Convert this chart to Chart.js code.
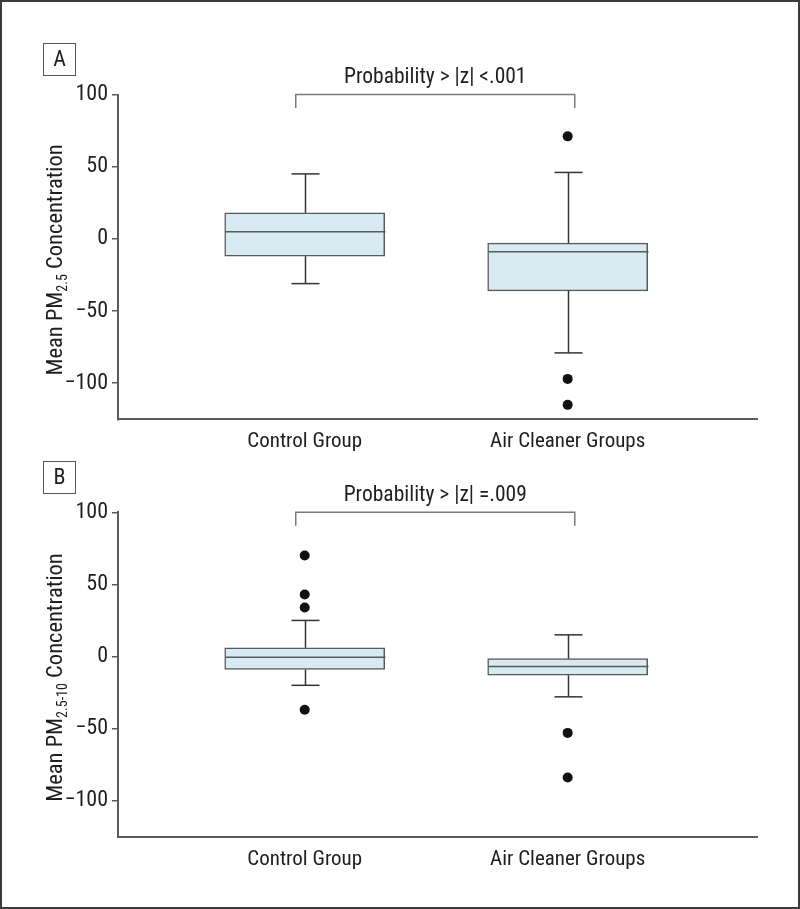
<!DOCTYPE html>
<html><head><meta charset="utf-8">
<script src="https://cdn.jsdelivr.net/npm/chart.js@4.4.1/dist/chart.umd.min.js"></script>
<style>
html,body{margin:0;padding:0;background:#fff;}
#wrap{position:relative;width:800px;height:909px;overflow:hidden;background:#fff;}
#frame{position:absolute;left:0;top:0;width:800px;height:909px;box-sizing:border-box;border:2px solid #3c3c3c;pointer-events:none;}
canvas{position:absolute;left:0;}
</style></head><body>
<div id="wrap">
<canvas id="cA" width="800" height="455" style="top:0px"></canvas>
<canvas id="cB" width="800" height="454" style="top:455px"></canvas>
<div id="frame"></div>
</div>
<script>
// ---------- data ----------
const categories = ['Control Group', 'Air Cleaner Groups'];
const categoryX = [1, 2];
const yTicks = [-100, -50, 0, 50, 100];
const yMin = -125, yMax = 100;

// Panel A: Mean PM2.5 concentration
const aWhiskerLow  = [-31, -79];
const aQ1          = [-12, -36];
const aMedian      = [5, -9];
const aQ3          = [18, -3];
const aWhiskerHigh = [45, 46];
const aOutliersControl = [];
const aOutliersAir     = [71, -97, -115];
const aTitle = 'Probability > |z| <.001';

// Panel B: Mean PM2.5-10 concentration
const bWhiskerLow  = [-20, -28];
const bQ1          = [-9, -13];
const bMedian      = [-0.5, -7];
const bQ3          = [6, -1.5];
const bWhiskerHigh = [25, 15];
const bOutliersControl = [70, 43, 34, -37];
const bOutliersAir     = [-53, -84];
const bTitle = 'Probability > |z| =.009';

const bracketX = [0.966, 2.027];
const bracketY = [100, 90.6];

// ---------- styles ----------
const FONT = '"Liberation Sans Narrow", "Roboto Condensed", "DejaVu Sans Condensed", "Liberation Sans", sans-serif';
const TEXT = '#1e1e1e';
const AXIS = '#5a5a5a';
const BOXFILL = '#d8eaf2';
const BOXLINE = '#5a5a5a';
const WHISK = '#333333';

function fmt(v){ return v < 0 ? '\u2212' + Math.abs(v) : String(v); }

function makeChart(canvasId, p){
  const outliers = [];
  p.outControl.forEach(v => outliers.push({x: categoryX[0], y: v}));
  p.outAir.forEach(v => outliers.push({x: categoryX[1], y: v}));
  const boxes = categoryX.map((x, i) => ({x: x, y: [p.q1[i], p.q3[i]]}));

  const overlay = {
    id: 'overlay',
    afterDatasetsDraw(chart){
      const {ctx, scales:{x, y}} = chart;
      ctx.save();
      ctx.lineCap = 'butt';
      categoryX.forEach((cx, i) => {
        const px = Math.round(x.getPixelForValue(cx)) + 0.5;
        const capHalf = 14;
        ctx.strokeStyle = WHISK; ctx.lineWidth = 1.5;
        const segs = [[p.q3[i], p.whHi[i]], [p.q1[i], p.whLo[i]]];
        segs.forEach(([a, b]) => {
          ctx.beginPath(); ctx.moveTo(px, y.getPixelForValue(a)); ctx.lineTo(px, y.getPixelForValue(b)); ctx.stroke();
          const yb = y.getPixelForValue(b);
          ctx.beginPath(); ctx.moveTo(px - capHalf, yb); ctx.lineTo(px + capHalf, yb); ctx.stroke();
        });
        ctx.strokeStyle = BOXLINE; ctx.lineWidth = 1.5;
        const ym = y.getPixelForValue(p.med[i]);
        ctx.beginPath(); ctx.moveTo(px - 80, ym); ctx.lineTo(px + 80, ym); ctx.stroke();
      });
      ctx.restore();
    },
    afterDraw(chart){
      const {ctx, scales:{x, y}, chartArea} = chart;
      ctx.save();
      const x0 = x.getPixelForValue(bracketX[0]), x1 = x.getPixelForValue(bracketX[1]);
      const yt = y.getPixelForValue(bracketY[0]), yl = y.getPixelForValue(bracketY[1]);
      ctx.strokeStyle = '#7a7a7a'; ctx.lineWidth = 1.5;
      ctx.beginPath(); ctx.moveTo(x0, yl); ctx.lineTo(x0, yt); ctx.lineTo(x1, yt); ctx.lineTo(x1, yl); ctx.stroke();
      ctx.fillStyle = TEXT; ctx.font = '21.5px ' + FONT; ctx.textAlign = 'center'; ctx.textBaseline = 'middle';
      ctx.fillText(p.title, (x0 + x1) / 2, yt - 17);
      ctx.strokeStyle = '#555'; ctx.lineWidth = 1;
      ctx.strokeRect(43.5, p.letterTop + 0.5, 32, 32);
      ctx.font = '22px ' + FONT; ctx.fillStyle = TEXT;
      ctx.fillText(p.letter, 59.5, p.letterTop + 17);
      const cy = (chartArea.top + chartArea.bottom) / 2 + 3;
      ctx.translate(62, cy); ctx.rotate(-Math.PI / 2);
      ctx.textAlign = 'left'; ctx.textBaseline = 'alphabetic';
      const f1 = '22.5px ' + FONT, f2 = '14px ' + FONT;
      ctx.font = f1; const w1 = ctx.measureText(p.yPre).width; const w3 = ctx.measureText(p.yPost).width;
      ctx.font = f2; const w2 = ctx.measureText(p.ySub).width;
      let sx = -(w1 + w2 + w3) / 2;
      ctx.font = f1; ctx.fillText(p.yPre, sx, 0); sx += w1;
      ctx.font = f2; ctx.fillText(p.ySub, sx, 5); sx += w2;
      ctx.font = f1; ctx.fillText(p.yPost, sx, 0);
      ctx.restore();
    }
  };

  return new Chart(document.getElementById(canvasId), {
    type: 'bar',
    data: {
      datasets: [
        { type: 'scatter', data: outliers, pointRadius: 5, pointHoverRadius: 5,
          backgroundColor: '#111', borderColor: '#111', borderWidth: 0, order: 0 },
        { type: 'bar', data: boxes, barThickness: 160, backgroundColor: BOXFILL,
          borderColor: BOXLINE, borderWidth: 1.5, borderSkipped: false, order: 1 }
      ]
    },
    options: {
      responsive: false, animation: false, devicePixelRatio: 1,
      layout: { padding: { top: p.padTop, right: 43, bottom: 0, left: 0 } },
      plugins: { legend: { display: false }, tooltip: { enabled: false }, title: { display: false } },
      scales: {
        x: {
          type: 'linear', min: 0.29, max: 2.72, offset: false,
          afterFit(s){ s.height = p.xAxisH; },
          afterBuildTicks(s){ s.ticks = categoryX.map(v => ({value: v})); },
          ticks: { autoSkip: false, maxRotation: 0, padding: 10, color: TEXT, font: { family: FONT, size: 21 },
                   callback: (v) => { const i = categoryX.indexOf(v); return i >= 0 ? categories[i] : ''; } },
          grid: { display: false, drawTicks: false },
          border: { display: true, color: AXIS, width: 2 }
        },
        y: {
          min: yMin, max: yMax,
          afterFit(s){ s.width = 118; },
          afterBuildTicks(s){ s.ticks = yTicks.map(v => ({value: v})); },
          ticks: { padding: 4, color: TEXT, font: { family: FONT, size: 22 }, callback: (v) => fmt(v) },
          grid: { drawOnChartArea: false, drawTicks: true, tickLength: 6, color: AXIS, lineWidth: 1.5 },
          border: { display: true, color: AXIS, width: 2 }
        }
      }
    },
    plugins: [overlay]
  });
}

makeChart('cA', {
  whLo: aWhiskerLow, q1: aQ1, med: aMedian, q3: aQ3, whHi: aWhiskerHigh,
  outControl: aOutliersControl, outAir: aOutliersAir, title: aTitle,
  letter: 'A', letterTop: 43, padTop: 94.5, xAxisH: 35.7,
  yPre: 'Mean PM', ySub: '2.5', yPost: ' Concentration'
});
makeChart('cB', {
  whLo: bWhiskerLow, q1: bQ1, med: bMedian, q3: bQ3, whHi: bWhiskerHigh,
  outControl: bOutliersControl, outAir: bOutliersAir, title: bTitle,
  letter: 'B', letterTop: 6, padTop: 57.3, xAxisH: 72.3,
  yPre: 'Mean PM', ySub: '2.5-10', yPost: ' Concentration'
});
</script>
</body></html>
